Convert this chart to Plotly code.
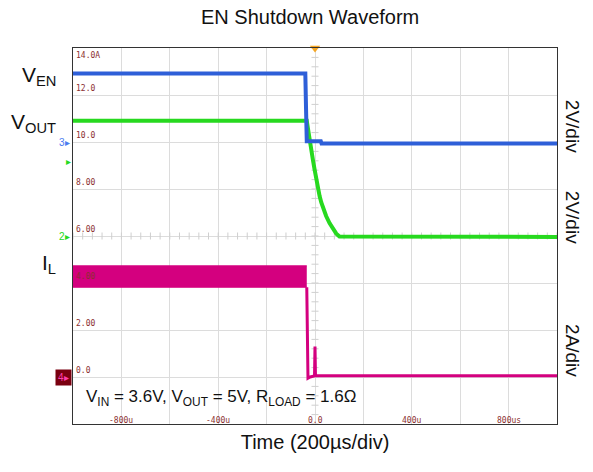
import plotly.graph_objects as go

# ---- scope settings ----
X_RANGE = [-1000, 1000]        # time window, µs (200 µs/div)
Y_RANGE = [-2, 14]             # screen units (2 per division)

# ---- tick labels drawn on the screen ----
ytick_vals = [0, 2, 4, 6, 8, 10, 12, 14]
ytick_text = ["0.0", "2.00", "4.00", "6.00", "8.00", "10.0", "12.0", "14.0A"]
xtick_vals = [-800, -400, 0, 400, 800]
xtick_text = ["-800u", "-400u", "0.0", "400u", "800us"]

# ---- V_EN (ch3) ----
ven_t = [-1000, -40, -37, -34, 24, 27, 1000]
ven_v = [12.92, 12.92, 11.4, 10.03, 10.03, 9.94, 9.94]

# ---- V_OUT (ch2) ----
vout_t = [-1000, -34, -28, -23, -15, -8, -2, 5, 12, 19, 26, 36, 46, 60, 74, 88, 101, 1000]
vout_v = [10.9, 10.9, 10.5, 10.1, 9.6, 9.2, 8.85, 8.4, 8.0, 7.7, 7.43, 7.1, 6.85, 6.55, 6.3, 6.1, 5.98, 5.96]

# ---- I_L (ch4): switching ripple envelope, then decay ----
il_band_t = [-1000, -34]
il_band_hi = [4.73, 4.73]
il_band_lo = [3.82, 3.82]
il_t = [-34, -31, -29, -20, -2, 0, 2, 1000]
il_v = [3.82, 1.1, -0.05, 0.0, 0.05, 1.3, 0.05, 0.05]

BLUE = "#2e5fd8"
GREEN = "#27d91f"
MAGENTA = "#d4007f"
LABEL_RED = "#8b2f2f"
FONT = "Liberation Sans, Arial, sans-serif"

fig = go.Figure()

# minor ticks on the centre graticule lines (5 per division)
minor_x = [-1000 + 40 * i for i in range(51)]
minor_y = [-2 + 0.4 * i for i in range(41)]
fig.add_trace(go.Scatter(x=minor_x, y=[6] * len(minor_x), mode="markers",
                         marker=dict(symbol="line-ns", size=5, line=dict(color="#cfcfcf", width=1)),
                         showlegend=False, hoverinfo="skip"))
fig.add_trace(go.Scatter(x=[0] * len(minor_y), y=minor_y, mode="markers",
                         marker=dict(symbol="line-ew", size=5, line=dict(color="#cfcfcf", width=1)),
                         showlegend=False, hoverinfo="skip"))

# inductor current ripple band
fig.add_trace(go.Scatter(x=il_band_t, y=il_band_lo, mode="lines",
                         line=dict(color=MAGENTA, width=1), showlegend=False, hoverinfo="skip"))
fig.add_trace(go.Scatter(x=il_band_t, y=il_band_hi, mode="lines", fill="tonexty",
                         fillcolor=MAGENTA, line=dict(color=MAGENTA, width=1),
                         showlegend=False, hoverinfo="skip"))
fig.add_trace(go.Scatter(x=il_t, y=il_v, mode="lines",
                         line=dict(color=MAGENTA, width=3), showlegend=False))

fig.add_trace(go.Scatter(x=vout_t, y=vout_v, mode="lines",
                         line=dict(color=GREEN, width=4), showlegend=False))
fig.add_trace(go.Scatter(x=ven_t, y=ven_v, mode="lines",
                         line=dict(color=BLUE, width=4), showlegend=False))

# trigger position marker
fig.add_trace(go.Scatter(x=[0], y=[14], mode="markers", cliponaxis=False,
                         marker=dict(symbol="triangle-down", size=9, color="#f5a623"),
                         showlegend=False))

annotations = []
# on-screen graticule labels
for v, t in zip(ytick_vals, ytick_text):
    annotations.append(dict(x=-1000, y=v, xref="x", yref="y", text=t, showarrow=False,
                            xanchor="left", yanchor="top" if v == 14 else "bottom",
                            xshift=1, yshift=-1 if v == 14 else 0,
                            font=dict(family="DejaVu Sans Mono", size=8, color=LABEL_RED)))
for v, t in zip(xtick_vals, xtick_text):
    annotations.append(dict(x=v, y=-2, xref="x", yref="y", text=t, showarrow=False,
                            xanchor="center", yanchor="bottom", yshift=-3,
                            font=dict(family="DejaVu Sans Mono", size=8, color=LABEL_RED)))

# channel labels
for txt, yv in [("V<sub>EN</sub>", 12.8), ("V<sub>OUT</sub>", 10.8), ("I<sub>L</sub>", 4.8)]:
    annotations.append(dict(x=-0.031, y=yv, xref="paper", yref="y", text=txt, showarrow=False,
                            xanchor="right", yanchor="middle",
                            font=dict(family=FONT, size=21, color="#111")))

# vertical scale labels
for txt, yp in [("2V/div", 0.793), ("2V/div", 0.551), ("2A/div", 0.197)]:
    annotations.append(dict(x=1.031, y=yp, xref="paper", yref="paper", text=txt, showarrow=False,
                            textangle=90, xanchor="center", yanchor="middle",
                            font=dict(family=FONT, size=19, color="#111")))

# channel ground markers
annotations += [
    dict(x=-0.003, y=10, xref="paper", yref="y", text="3▸", showarrow=False, xanchor="right",
         font=dict(family=FONT, size=10, color="#4a7cf0")),
    dict(x=-0.001, y=9.15, xref="paper", yref="y", text="▸", showarrow=False, xanchor="right",
         font=dict(family=FONT, size=10, color=GREEN)),
    dict(x=-0.003, y=6, xref="paper", yref="y", text="2▸", showarrow=False, xanchor="right",
         font=dict(family=FONT, size=10, color=GREEN)),
    dict(x=-0.002, y=0, xref="paper", yref="y", text="4▸", showarrow=False, xanchor="right",
         bgcolor="#7a0010", borderpad=2,
         font=dict(family=FONT, size=10, color="#ff3fae")),
]

# test conditions
annotations.append(dict(x=0.0227, y=0.069, xref="paper", yref="paper",
                        text="V<sub>IN</sub> = 3.6V, V<sub>OUT</sub> = 5V, R<sub>LOAD</sub> = 1.6Ω",
                        showarrow=False, xanchor="left", yanchor="middle",
                        font=dict(family=FONT, size=17, color="#111")))

fig.update_layout(
    width=593, height=472,
    margin=dict(l=73, r=36, t=48, b=48),
    paper_bgcolor="white", plot_bgcolor="white",
    title=dict(text="EN Shutdown Waveform", x=0.523, xanchor="center", y=0.963, yanchor="middle",
               font=dict(family=FONT, size=20, color="#111")),
    xaxis=dict(range=X_RANGE, tickvals=[-800, -600, -400, -200, 0, 200, 400, 600, 800],
               showticklabels=False, ticks="", showgrid=True, gridcolor="#dcdcdc", gridwidth=1,
               zeroline=False, showline=True, linecolor="#333", linewidth=1, mirror=True,
               title=dict(text="Time (200µs/div)", font=dict(family=FONT, size=20, color="#111"),
                          standoff=10)),
    yaxis=dict(range=Y_RANGE, tickvals=[0, 2, 4, 6, 8, 10, 12],
               showticklabels=False, ticks="", showgrid=True, gridcolor="#dcdcdc", gridwidth=1,
               zeroline=False, showline=True, linecolor="#333", linewidth=1, mirror=True),
    annotations=annotations,
)

fig.write_html("out.html")
